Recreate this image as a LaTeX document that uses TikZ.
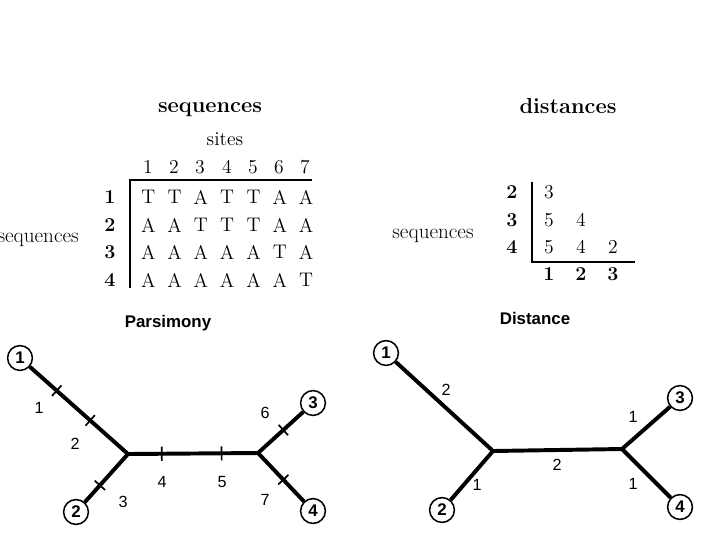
\documentclass[tikz,border=0pt]{standalone}
\usepackage{fontspec}
\setsansfont{Liberation Sans}
\usetikzlibrary{calc}
\tikzset{
  serif/.style={font=\fontsize{14}{16}\selectfont, inner sep=0pt},
  serifb/.style={font=\fontsize{14}{16}\selectfont\bfseries, inner sep=0pt},
  title/.style={font=\fontsize{15.5}{18}\selectfont\bfseries, inner sep=0pt},
  lbl/.style={font=\fontsize{15}{18}\selectfont, inner sep=0pt},
  treetitle/.style={font=\sffamily\bfseries\fontsize{12}{14}\selectfont, inner sep=0pt},
  leaf/.style={circle, draw, line width=1.1pt, inner sep=0pt, minimum size=0.62cm, font=\sffamily\bfseries\fontsize{12}{14}\selectfont},
  branch/.style={line width=2.8pt},
  axis/.style={line width=0.9pt},
  elbl/.style={font=\sffamily\fontsize{11.5}{13}\selectfont, inner sep=0pt},
  tickmark/.style={sloped, inner sep=0pt, node contents={\rule[-5pt]{1.2pt}{10pt}}}
}
\begin{document}
\begin{tikzpicture}[x=0.025cm,y=-0.025cm]
\useasboundingbox (0,0) rectangle (720,540);
% ---------- sequences table ----------
\node[title] (seqtitle) at (210,110) {sequences};
\node[serif] (sites) at (225,139) {sites};
\foreach \c/\x in {1/148,2/174,3/200,4/227,5/253,6/279,7/305}{
  \node[serif] (col\c) at (\x,167) {\c};
}
\foreach \r/\y in {1/197,2/225,3/252,4/280}{
  \node[serifb] (row\r) at (110,\y) {\r};
}
\foreach \r/\y/\s in {1/197/{T,T,A,T,T,A,A},2/225/{A,A,T,T,T,A,A},3/252/{A,A,A,A,A,T,A},4/280/{A,A,A,A,A,A,T}}{
  \foreach \ch [count=\c] in \s {
    \pgfmathsetmacro{\xx}{122+26.3*\c}
    \node[serif] (s\r\c) at (\xx,\y) {\ch};
  }
}
\coordinate (tl) at (130,180);
\coordinate (tr) at (312,180);
\coordinate (bl) at (130,288);
\draw[axis] (tr) -- (tl) -- (bl);
\node[lbl, anchor=east] (seqleft) at (79,240) {sequences};
% ---------- distances table ----------
\node[title] (disttitle) at (568,106) {distances};
\foreach \r/\y in {2/192,3/220,4/247}{
  \node[serifb] (drow\r) at (512,\y) {\r};
}
\foreach \c/\x in {1/549,2/581,3/613}{
  \node[serifb] (dcol\c) at (\x,274) {\c};
}
\node[serif] (d21) at (549,192) {3};
\node[serif] (d31) at (549,220) {5};
\node[serif] (d32) at (581,220) {4};
\node[serif] (d41) at (549,247) {5};
\node[serif] (d42) at (581,247) {4};
\node[serif] (d43) at (613,247) {2};
\coordinate (dt) at (532,182);
\coordinate (dc) at (532,262);
\coordinate (dr) at (635,262);
\draw[axis] (dt) -- (dc) -- (dr);
\node[lbl] (seqright) at (433,236) {sequences};
% ---------- Parsimony tree ----------
\node[treetitle] (ptitle) at (168,323) {Parsimony};
\node[leaf] (p1) at (20,358) {1};
\node[leaf] (p2) at (76,512) {2};
\node[leaf] (p3) at (313,403) {3};
\node[leaf] (p4) at (313,511) {4};
\coordinate (pj1) at (128,454);
\coordinate (pj2) at (258,453);
\draw[branch] (p1) -- (pj1);
\draw[branch] (p2) -- (pj1);
\draw[branch] (pj1) -- (pj2);
\draw[branch] (pj2) -- (p3);
\draw[branch] (pj2) -- (p4);
\path (p1.center) -- (pj1) node[tickmark, pos=0.34] node[tickmark, pos=0.65];
\path (p2.center) -- (pj1) node[tickmark, pos=0.46];
\path (pj1) -- (pj2) node[tickmark, pos=0.26] node[tickmark, pos=0.72];
\path (pj2) -- (p3.center) node[tickmark, pos=0.46];
\path (pj2) -- (p4.center) node[tickmark, pos=0.46];
\node[elbl] (pl1) at (39,408) {1};
\node[elbl] (pl2) at (75,444) {2};
\node[elbl] (pl3) at (123,502) {3};
\node[elbl] (pl4) at (162,482) {4};
\node[elbl] (pl5) at (222,482) {5};
\node[elbl] (pl6) at (265,413) {6};
\node[elbl] (pl7) at (265,500) {7};
% ---------- Distance tree ----------
\node[treetitle] (dtitle) at (535,318) {Distance};
\node[leaf] (q1) at (386,353) {1};
\node[leaf] (q2) at (442,510) {2};
\node[leaf] (q3) at (680,398) {3};
\node[leaf] (q4) at (680,507) {4};
\coordinate (qj1) at (493,451);
\coordinate (qj2) at (622,449);
\draw[branch] (q1) -- (qj1);
\draw[branch] (q2) -- (qj1);
\draw[branch] (qj1) -- (qj2);
\draw[branch] (qj2) -- (q3);
\draw[branch] (qj2) -- (q4);
\node[elbl] (ql1) at (446,390) {2};
\node[elbl] (ql2) at (477,485) {1};
\node[elbl] (ql3) at (557,465) {2};
\node[elbl] (ql4) at (633,417) {1};
\node[elbl] (ql5) at (633,484) {1};
\end{tikzpicture}
\end{document}
